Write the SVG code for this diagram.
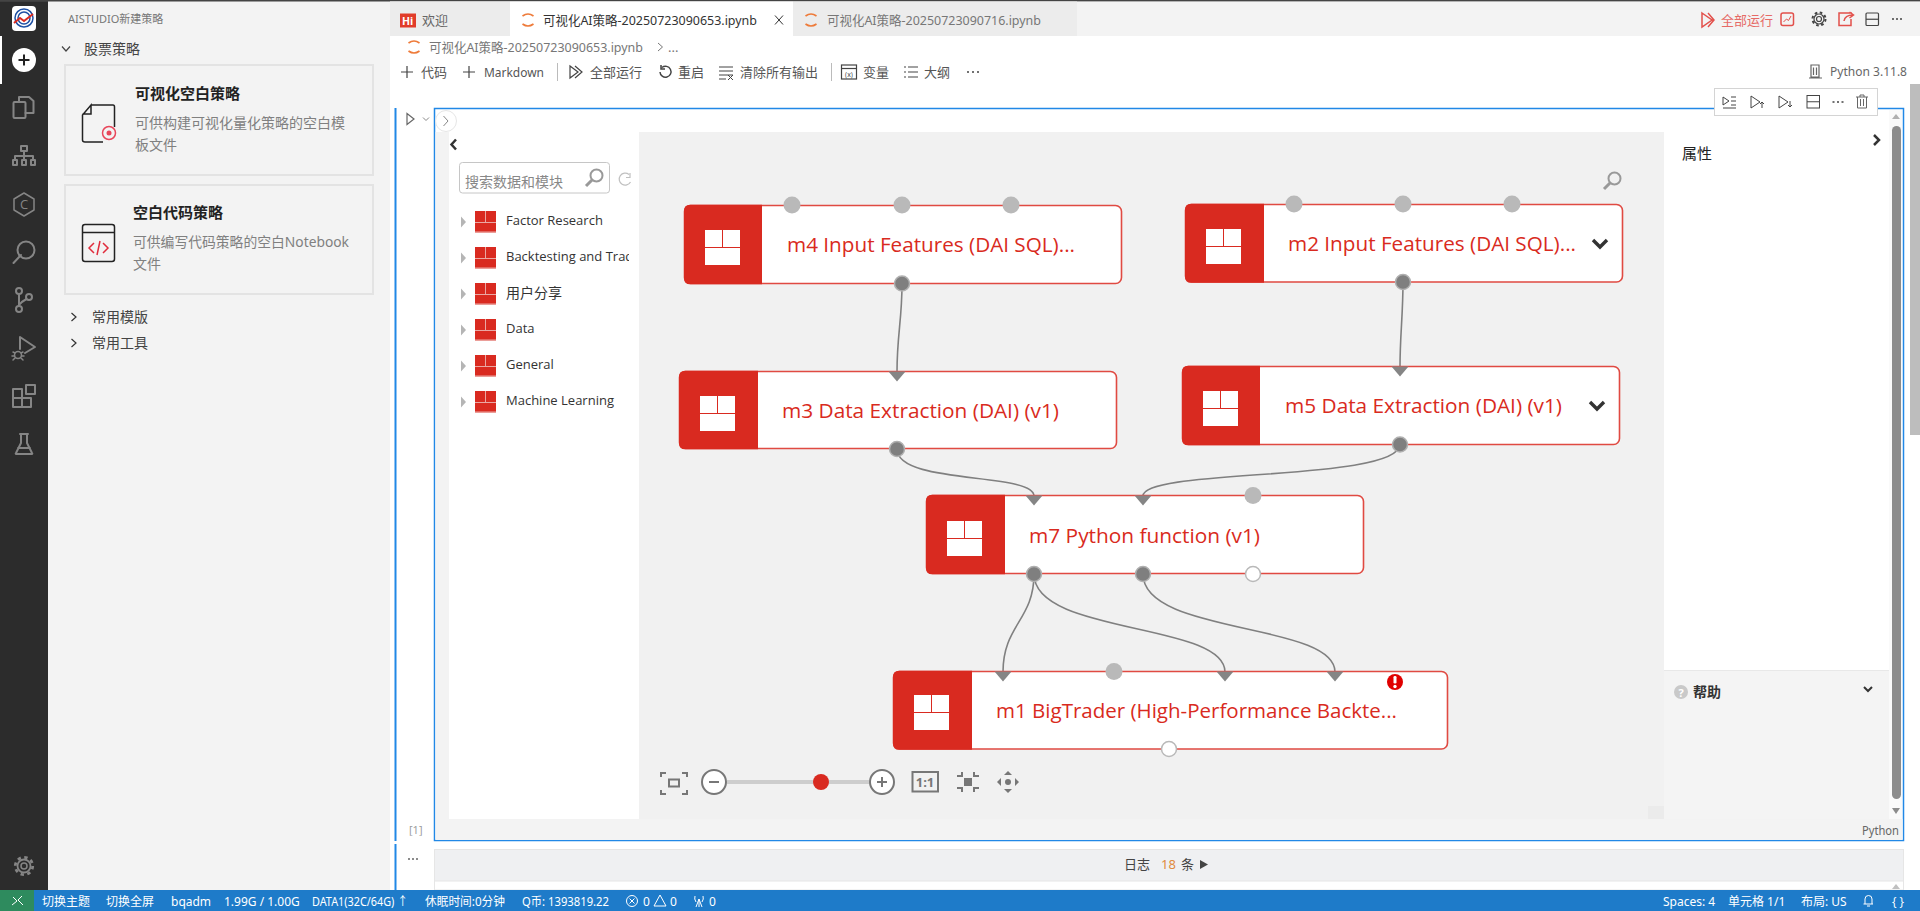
<svg xmlns="http://www.w3.org/2000/svg" xmlns:xlink="http://www.w3.org/1999/xlink" width="1920" height="911" viewBox="0 0 1920 911">
<style>
text{font-family:"Open Sans","Noto Sans","Noto Sans CJK SC",sans-serif;font-size:13px;fill:#555}
.cjk{font-family:"Noto Sans","Noto Sans CJK SC",sans-serif}
.act{fill:none;stroke:#858585;stroke-width:2;stroke-linejoin:round;stroke-linecap:round}
.tb{fill:none;stroke:#444;stroke-width:1.2}
.red{fill:none;stroke:#e2504b;stroke-width:1.5}
.nb{fill:#fff;stroke:#e04a42;stroke-width:1.6}
.nr{fill:#d92a20}
.nt{font-size:20.6px;fill:#d92a20}
.pi{fill:#b9b9b9}
.po{fill:#7f7f7f;stroke:#b0b0b0;stroke-width:1.5}
.pw{fill:#fff;stroke:#b9b9b9;stroke-width:1.5}
.ar{fill:#858585}
.conn{fill:none;stroke:#808080;stroke-width:1.6}
.st{font-size:12px;fill:#fff}
.pal{font-size:13px;fill:#333}
.ctl{fill:none;stroke:#777;stroke-width:2}
.ctf{fill:#777}
.cv{fill:none;stroke:#333;stroke-width:2.5}
</style>
<defs>
<g id="ni"><rect width="35" height="35" fill="#fff"/><path d="M17.5 0V17.5M0 17.5H35" stroke="#d92a20" stroke-width="1"/></g>
<g id="pi"><rect width="21" height="21.5" fill="#d92a20"/><path d="M10.5 0V11M0 11.5H21M0 21H21" stroke="#eaa7a3" stroke-width="1"/></g>
<path id="tri" d="M0 0L5 5.5L0 11Z" fill="#b5b5b5"/>
<g id="jup" fill="none" stroke="#ee7b3a" stroke-width="1.6"><path d="M-5.5 -4Q0 -8 5.5 -4"/><path d="M-5.5 4Q0 8 5.5 4"/></g>
<path id="chev" d="M-7 -3.500L0 3.500L7 -3.500" fill="none" stroke="#333" stroke-width="3.400"/>
<g id="mag" fill="none" stroke="#999" stroke-width="2"><circle cx="2.5" cy="-2.5" r="6"/><path d="M-2 2L-8 8" stroke-width="3"/></g>
<clipPath id="palclip"><rect x="449" y="240" width="180" height="40"/></clipPath>
</defs>

<rect width="1920" height="911" fill="#fff"/>
<g id="activity-bar">
<rect width="48" height="890" fill="#2c2c2c"/>
<rect y="0" width="1920" height="1.5" fill="#444"/>
<rect x="0" y="36" width="2" height="48" fill="#fff"/>
<rect x="12" y="6" width="24" height="25" rx="4" fill="#fff"/>
<circle cx="24" cy="18" r="9" fill="none" stroke="#1d4fa3" stroke-width="1.500"/>
<circle cx="24" cy="18" r="6" fill="none" stroke="#1d4fa3" stroke-width="1.500"/>
<path d="M14 23L20 18L24 21L33 14" fill="none" stroke="#d92a20" stroke-width="2"/>
<circle cx="24" cy="60" r="12" fill="#fff"/>
<path d="M24 54.500V65.500M18.500 60H29.500" stroke="#222" stroke-width="2"/>
<g class="act">
<rect x="13.500" y="102" width="12" height="16" rx="1"/><path d="M19 102V97H29L33.500 101V113H25.500"/>
<rect x="21" y="146" width="6" height="5"/><path d="M24 151V156M15 160V156H33V160M24 156V160"/><rect x="13" y="160" width="4" height="5"/><rect x="22" y="160" width="4" height="5"/><rect x="31" y="160" width="4" height="5"/>
<path d="M24 193L34 199V210L24 216L14 210V199Z" stroke-width="1.5"/>
<path d="M13.500 263L21 255"/><circle cx="26" cy="250" r="8.500"/>
<circle cx="19" cy="291" r="3"/><circle cx="19" cy="309" r="3"/><circle cx="29" cy="297" r="3"/><path d="M19 294V306M26.500 299Q21 302 19 305"/>
<path d="M20 349V337L35 347L25 353"/><circle cx="18" cy="355" r="3.500" stroke-width="1.500"/><path d="M13 352L15 353M23 352L21 353M12 356H14.500M24 356H21.500M13 360L15 358M23 360L21 358" stroke-width="1.500"/>
<rect x="13" y="389" width="9" height="9"/><rect x="13" y="398" width="9" height="9"/><rect x="22" y="398" width="9" height="9"/><rect x="26" y="385" width="9" height="9"/>
<path d="M20 434H28M21 434V443L16 453Q15 454 17 454H31Q33 454 32 453L27 443V434M18 448H30"/>
<circle cx="24" cy="866" r="3" stroke-width="1.500"/><circle cx="24" cy="866" r="6.500" stroke-width="1.800"/><circle cx="24" cy="866" r="8.700" stroke-dasharray="3.400 3.430" stroke-width="2.800" stroke-linecap="butt"/>
</g>
<text x="24" y="209" text-anchor="middle" style="font-size:13px;fill:#858585">C</text>
</g>

<g id="sidebar">
<rect x="48" y="0" width="342" height="890" fill="#f3f3f3"/>
<rect y="0" width="1920" height="1.500" fill="#444"/>
<text x="68" y="23" class="cjk" style="font-size:11px;fill:#777">AISTUDIO新建策略</text>
<path d="M62 46.500L66 51L70 46.500" fill="none" stroke="#444" stroke-width="1.200"/>
<text x="84" y="54" class="cjk" style="font-size:14px;fill:#444">股票策略</text>
<rect x="65" y="65" width="308" height="110" fill="#f3f3f3" stroke="#e3e3e3" stroke-width="2"/>
<rect x="65" y="185" width="308" height="109" fill="#f3f3f3" stroke="#e3e3e3" stroke-width="2"/>
<text x="135" y="99" class="cjk" style="font-size:15px;font-weight:700;fill:#222">可视化空白策略</text>
<text x="135" y="128" class="cjk" style="font-size:14px;fill:#808080">可供构建可视化量化策略的空白模</text>
<text x="135" y="150" class="cjk" style="font-size:14px;fill:#808080">板文件</text>
<text x="133" y="218" class="cjk" style="font-size:15px;font-weight:700;fill:#222">空白代码策略</text>
<text x="133" y="247" class="cjk" style="font-size:14px;fill:#808080" textLength="216" lengthAdjust="spacingAndGlyphs">可供编写代码策略的空白Notebook</text>
<text x="133" y="269" class="cjk" style="font-size:14px;fill:#808080">文件</text>
<path d="M91 105H113Q114.500 105 114.500 107V127M103 142H85Q82.500 142 82.500 140V115L91 105V114H82.500" fill="none" stroke="#222" stroke-width="1.500"/>
<circle cx="109" cy="133" r="6.500" fill="none" stroke="#e8465a" stroke-width="1.500"/><circle cx="109" cy="133" r="2.500" fill="#e8465a"/>
<rect x="82.500" y="224.500" width="32" height="37" rx="2.500" fill="none" stroke="#222" stroke-width="1.500"/>
<path d="M82.500 232.500H114.500" stroke="#222" stroke-width="1.500"/>
<path d="M94 243L89 248L94 253M103 243L108 248L103 253M100 241L97 255" fill="none" stroke="#e02c3c" stroke-width="1.500"/>
<path d="M71.500 313L76 317L71.500 321M71.500 339L76 343L71.500 347" fill="none" stroke="#333" stroke-width="1.200"/>
<text x="92" y="322" class="cjk" style="font-size:14px;fill:#444">常用模版</text>
<text x="92" y="348" class="cjk" style="font-size:14px;fill:#444">常用工具</text>
</g>

<g id="tabs">
<rect x="390" y="1.500" width="1530" height="34.500" fill="#f3f3f3"/>
<rect x="390" y="1.500" width="120" height="34.500" fill="#ececec"/>
<rect x="510" y="1.500" width="283" height="34.500" fill="#fff"/>
<rect x="793" y="1.500" width="284" height="34.500" fill="#ececec"/>
<rect x="400" y="13.500" width="16" height="14" fill="#e13c2a"/>
<text x="402" y="24.500" style="font-size:10.500px;font-weight:700;fill:#fff">Hi</text>
<text x="422" y="25" class="cjk" style="fill:#666">欢迎</text>
<use xlink:href="#jup" href="#jup" x="528" y="20"/>
<text x="543" y="25" class="cjk" style="fill:#333" textLength="214" lengthAdjust="spacingAndGlyphs">可视化AI策略-20250723090653.ipynb</text>
<path d="M775 15.500L783 24.500M783 15.500L775 24.500" stroke="#333" stroke-width="1"/>
<use xlink:href="#jup" href="#jup" x="811" y="20"/>
<text x="827" y="25" class="cjk" style="fill:#777" textLength="214" lengthAdjust="spacingAndGlyphs">可视化AI策略-20250723090716.ipynb</text>
<path d="M1702 13L1712 20L1702 27ZM1708 13L1714 20L1708 27" class="red"/>
<text x="1721" y="25" class="cjk" style="fill:#e66a66">全部运行</text>
<rect x="1781" y="13" width="12.500" height="12.500" rx="2" class="red"/><path d="M1783.500 22L1786.500 19L1788.500 20.500L1791 16" class="red" style="stroke-width:1"/>
<circle cx="1819" cy="19" r="2.500" class="tb"/><circle cx="1819" cy="19" r="5" class="tb"/><circle cx="1819" cy="19" r="6.500" fill="none" stroke="#444" stroke-width="2" stroke-dasharray="2.600 2.500"/>
<path d="M1852 13H1839V25.500H1851V19M1844 21Q1845 15 1853 15M1849.500 12L1853.500 15L1849.500 18" class="red"/>
<rect x="1866" y="13" width="12.500" height="12.500" rx="1" class="tb"/><path d="M1866 19.250H1878.500" class="tb"/>
<path d="M1892 19h2M1896 19h2M1900 19h2" stroke="#444" stroke-width="1.500"/>
</g>

<g id="breadcrumb-toolbar">
<use xlink:href="#jup" href="#jup" x="414" y="47"/>
<text x="429" y="52" class="cjk" style="fill:#777" textLength="214" lengthAdjust="spacingAndGlyphs">可视化AI策略-20250723090653.ipynb</text>
<path d="M658 43L662.500 47L658 51" fill="none" stroke="#777"/>
<text x="668" y="52" class="cjk" style="fill:#777">...</text>
<path d="M401 72H413M407 66V78M463 72H475M469 66V78" stroke="#444" stroke-width="1.200"/>
<text x="421" y="77" class="cjk">代码</text>
<text x="484" y="77" class="cjk" textLength="60" lengthAdjust="spacingAndGlyphs">Markdown</text>
<path d="M557.500 63V81M831.500 63V81" stroke="#bbb"/>
<path d="M570 66V78L578 72ZM575 66L582 72L575 78" class="tb"/>
<text x="590" y="77" class="cjk">全部运行</text>
<path d="M662 67.500A5.500 5.500 0 1 1 660 72M661 65V69H665" class="tb" style="stroke-width:1.500"/>
<text x="678" y="77" class="cjk">重启</text>
<path d="M719 67H733M719 71H733M719 75H733M719 79H726M728 75L733 80M733 75L728 80" class="tb" style="stroke-width:1"/>
<text x="740" y="77" class="cjk">清除所有输出</text>
<rect x="841.500" y="65" width="15" height="14" class="tb"/><path d="M841.500 68.500H856.500" class="tb"/><text x="849" y="77" text-anchor="middle" style="font-size:7px;fill:#444">(x)</text>
<text x="863" y="77" class="cjk">变量</text>
<path d="M904 67h2M908 67h10M904 72h2M908 72h10M904 77h2M908 77h10" class="tb"/>
<text x="924" y="77" class="cjk">大纲</text>
<path d="M967 72h2M972 72h2M977 72h2" stroke="#444" stroke-width="1.500"/>
<path d="M1811 65H1819V77H1811ZM1813.500 67.500V75M1816.500 67.500V75M1809 78H1822" fill="none" stroke="#666" stroke-width="1.200"/>
<text x="1830" y="76" class="cjk" style="fill:#666" textLength="77" lengthAdjust="spacingAndGlyphs">Python 3.11.8</text>
</g>

<g id="cell">
<rect x="394.500" y="108" width="2" height="733" fill="#2188e6"/>
<rect x="394.500" y="844" width="2" height="46" fill="#2188e6"/>
<path d="M407 113.500L414 119L407 124.500Z" fill="none" stroke="#666" stroke-width="1.200"/>
<path d="M423 117.500L426 120.500L429 117.500" fill="none" stroke="#888"/>
<rect x="434.500" y="108.500" width="1469" height="732" fill="#fff" stroke="#2188e6" stroke-width="1.500"/>
<rect x="435.500" y="819" width="1467" height="21" fill="#f3f3f3"/>
<rect x="435.500" y="132" width="13.500" height="687" fill="#f3f3f3"/>
<rect x="1664" y="670" width="225" height="149" fill="#f4f4f4"/>
<path d="M1664 670.500H1889" stroke="#e8e8e8"/>
<rect x="639" y="132" width="1025" height="687" fill="#f1f1f1"/>
<rect x="1648" y="806" width="16" height="13" fill="#ebebeb"/>
<rect x="1889" y="110" width="13" height="709" fill="#fafafa"/>
<path d="M1892 119L1896 114L1900 119Z" fill="#b0b0b0"/>
<rect x="1892" y="126" width="9" height="673" rx="4.500" fill="#8c8c8c"/>
<path d="M1892 808H1900L1896 814Z" fill="#8c8c8c"/>
<circle cx="446" cy="121" r="10.500" fill="#fff" stroke="#e6e6e6"/>
<path d="M443.500 116L448 121L443.500 126" fill="none" stroke="#888"/>
<use xlink:href="#mag" href="#mag" x="1612" y="181"/>
<text x="1682" y="159" class="cjk" style="font-size:15px;fill:#222">属性</text>
<path d="M1874 135L1879 140L1874 145" class="cv"/>
<circle cx="1681" cy="692" r="7" fill="#c9c9c9"/><text x="1681" y="696.500" text-anchor="middle" style="font-size:11px;font-weight:700;fill:#fff">?</text>
<text x="1693" y="697" class="cjk" style="font-size:14px;font-weight:700;fill:#333">帮助</text>
<path d="M1864 687L1868 691L1872 687" fill="none" stroke="#333" stroke-width="2"/>
<text x="1862" y="835" class="cjk" style="font-size:12px;fill:#666" textLength="37" lengthAdjust="spacingAndGlyphs">Python</text>
<text x="409" y="834" style="font-size:11px;fill:#999">[1]</text>
<rect x="1714.500" y="88.500" width="163" height="27" fill="#fff" stroke="#d4d4d4" stroke-width="1"/>
<g class="tb" style="stroke-width:1">
<path d="M1723 97L1729 101L1723 105ZM1731 97H1736M1731 101H1736M1731 105H1736M1723 108H1736"/>
<path d="M1751 96V108L1760 102ZM1762 108V102M1760 104L1762 102L1764 104"/>
<path d="M1779 96V108L1788 102ZM1790 101V107M1788 105L1790 107L1792 105"/>
<rect x="1807" y="95.500" width="12.500" height="12.500"/><path d="M1807 101.750H1819.500"/>
<path d="M1856 97H1868M1860 97V95H1864V97M1857.500 97V108H1866.500V97M1860.500 99V106M1863.500 99V106" stroke="#666"/>
</g>
<path d="M1832.500 102h2M1837 102h2M1841.500 102h2" stroke="#444" stroke-width="1.500"/>
</g>

<g id="palette">
<path d="M456 139.500L451.500 144.500L456 149.500" class="cv"/>
<rect x="459.500" y="162.500" width="150" height="30.500" rx="3" fill="#fff" stroke="#c6c6c6" stroke-width="1"/>
<text x="465" y="187" class="cjk" style="font-size:14px;fill:#888">搜索数据和模块</text>
<use xlink:href="#mag" href="#mag" x="594" y="178"/>
<path d="M629 174.500A6 6 0 1 0 630.500 182M630 173V177.500H626" fill="none" stroke="#c0c0c0" stroke-width="1.200"/>
<use xlink:href="#tri" href="#tri" x="461" y="216.500"/><use xlink:href="#pi" href="#pi" x="475" y="211"/><text x="506" y="225" class="pal">Factor Research</text>
<use xlink:href="#tri" href="#tri" x="461" y="252.500"/><use xlink:href="#pi" href="#pi" x="475" y="247"/><text x="506" y="261" class="pal" clip-path="url(#palclip)">Backtesting and Trading</text>
<use xlink:href="#tri" href="#tri" x="461" y="288.500"/><use xlink:href="#pi" href="#pi" x="475" y="283"/><text x="506" y="298" class="pal cjk" style="font-size:14px">用户分享</text>
<use xlink:href="#tri" href="#tri" x="461" y="324.500"/><use xlink:href="#pi" href="#pi" x="475" y="319"/><text x="506" y="333" class="pal">Data</text>
<use xlink:href="#tri" href="#tri" x="461" y="360.500"/><use xlink:href="#pi" href="#pi" x="475" y="355"/><text x="506" y="369" class="pal">General</text>
<use xlink:href="#tri" href="#tri" x="461" y="396.500"/><use xlink:href="#pi" href="#pi" x="475" y="391"/><text x="506" y="405" class="pal">Machine Learning</text>
</g>

<g id="connectors">
<path class="conn" d="M902 284C902 320 897 335 897 372"/>
<path class="conn" d="M1403 282C1403 315 1400 335 1400 367"/>
<path class="conn" d="M897 449C897 485 1034 472 1034 496"/>
<path class="conn" d="M1400 444C1400 482 1143 468 1143 496"/>
<path class="conn" d="M1034 574C1034 620 1003 625 1003 672"/>
<path class="conn" d="M1034 574C1034 635 1225 622 1225 672"/>
<path class="conn" d="M1143 574C1143 635 1335 622 1335 672"/>
</g>

<g id="node-m4">
<rect class="nb" x="684.500" y="205.500" width="437" height="78" rx="6"/>
<path class="nr" d="M690 204.700H762V284.300H690Q684 284.300 684 278V211Q684 204.700 690 204.700Z"/>
<use xlink:href="#ni" href="#ni" x="705" y="230"/>
<text class="nt" x="787" y="252" textLength="288" lengthAdjust="spacingAndGlyphs">m4 Input Features (DAI SQL)...</text>
<circle class="pi" cx="792" cy="205" r="8.500"/><circle class="pi" cx="902" cy="205" r="8.500"/><circle class="pi" cx="1011" cy="205" r="8.500"/>
<circle class="po" cx="902" cy="283.500" r="7.500"/>
</g>
<g id="node-m3">
<rect class="nb" x="679.500" y="371.500" width="437" height="77" rx="6"/>
<path class="nr" d="M685 370.700H758V449.300H685Q679 449.300 679 443V377Q679 370.700 685 370.700Z"/>
<use xlink:href="#ni" href="#ni" x="700" y="396"/>
<text class="nt" x="782" y="418" textLength="277" lengthAdjust="spacingAndGlyphs">m3 Data Extraction (DAI) (v1)</text>
<path class="ar" d="M888.500 371.500H905.500L897 381.500Z"/>
<circle class="po" cx="897" cy="449" r="7.500"/>
</g>
<g id="node-m2">
<rect class="nb" x="1185.500" y="204.500" width="437" height="77.500" rx="6"/>
<path class="nr" d="M1191 203.700H1264V282.700H1191Q1185 282.700 1185 276.700V210Q1185 203.700 1191 203.700Z"/>
<use xlink:href="#ni" href="#ni" x="1206" y="229"/>
<text class="nt" x="1288" y="251" textLength="288" lengthAdjust="spacingAndGlyphs">m2 Input Features (DAI SQL)...</text>
<use xlink:href="#chev" href="#chev" x="1600" y="243.500"/>
<circle class="pi" cx="1294" cy="204" r="8.500"/><circle class="pi" cx="1403" cy="204" r="8.500"/><circle class="pi" cx="1512" cy="204" r="8.500"/>
<circle class="po" cx="1403" cy="282" r="7.500"/>
</g>
<g id="node-m5">
<rect class="nb" x="1182.500" y="366.500" width="437" height="78" rx="6"/>
<path class="nr" d="M1188 365.700H1260V445.300H1188Q1182 445.300 1182 439.300V372Q1182 365.700 1188 365.700Z"/>
<use xlink:href="#ni" href="#ni" x="1203" y="391"/>
<text class="nt" x="1285" y="413" textLength="277" lengthAdjust="spacingAndGlyphs">m5 Data Extraction (DAI) (v1)</text>
<use xlink:href="#chev" href="#chev" x="1597" y="405.500"/>
<path class="ar" d="M1391.500 366.500H1408.500L1400 376.500Z"/>
<circle class="po" cx="1400" cy="444.500" r="7.500"/>
</g>
<g id="node-m7">
<rect class="nb" x="926.500" y="495.500" width="437" height="78" rx="6"/>
<path class="nr" d="M932 494.700H1005V574.300H932Q926 574.300 926 568V501Q926 494.700 932 494.700Z"/>
<use xlink:href="#ni" href="#ni" x="947" y="521"/>
<text class="nt" x="1029" y="543" textLength="231" lengthAdjust="spacingAndGlyphs">m7 Python function (v1)</text>
<path class="ar" d="M1025.500 495.500H1042.500L1034 505.500Z"/><path class="ar" d="M1134.500 495.500H1151.500L1143 505.500Z"/>
<circle class="pi" cx="1253" cy="495.500" r="8.500"/>
<circle class="po" cx="1034" cy="574" r="7.500"/><circle class="po" cx="1143" cy="574" r="7.500"/><circle class="pw" cx="1253" cy="574" r="7.500"/>
</g>
<g id="node-m1">
<rect class="nb" x="893.500" y="671.500" width="554" height="77.500" rx="6"/>
<path class="nr" d="M899 670.700H972V749.700H899Q893 749.700 893 743.700V677Q893 670.700 899 670.700Z"/>
<use xlink:href="#ni" href="#ni" x="914" y="695"/>
<text class="nt" x="996" y="718" textLength="401" lengthAdjust="spacingAndGlyphs">m1 BigTrader (High-Performance Backte...</text>
<path class="ar" d="M994.500 671.500H1011.500L1003 681.500Z"/><path class="ar" d="M1216.500 671.500H1233.500L1225 681.500Z"/><path class="ar" d="M1326.500 671.500H1343.500L1335 681.500Z"/>
<circle class="pi" cx="1114" cy="671.500" r="8.500"/>
<circle class="pw" cx="1169" cy="749" r="7.500"/>
<circle cx="1395" cy="682" r="8" fill="#e00000"/><rect x="1393.500" y="676" width="3" height="7.500" rx="1.300" fill="#fff"/><circle cx="1395" cy="686.500" r="1.700" fill="#fff"/>
</g>

<g id="canvas-controls">
<path class="ctl" d="M661 777V773H666M682 773H687V777M687 790V794H682M666 794H661V790" stroke-width="1.500"/>
<rect x="669" y="779.500" width="10" height="7" class="ctl"/>
<rect x="727" y="780" width="143" height="4" fill="#cdcdcd"/>
<circle cx="714" cy="782" r="12" fill="#fff" stroke="#777" stroke-width="2"/><path d="M709 782H719" stroke="#777" stroke-width="2"/>
<circle cx="882" cy="782" r="12" fill="#fff" stroke="#777" stroke-width="2"/><path d="M877 782H887M882 777V787" stroke="#777" stroke-width="2"/>
<circle cx="821" cy="782" r="8" fill="#d92a20"/>
<rect x="912.500" y="772" width="25.500" height="19.500" class="ctl"/>
<text x="925" y="787" text-anchor="middle" style="font-size:13px;font-weight:700;fill:#777">1:1</text>
<rect x="964" y="778" width="8" height="8" class="ctf"/>
<path class="ctl" d="M962 772V776H957M974 772V776H979M962 792V788H957M974 792V788H979" stroke-width="1.500"/>
<circle cx="1008" cy="782" r="3" class="ctf"/>
<path class="ctf" d="M1008 771L1012 775H1004ZM1008 793L1012 789H1004ZM997 782L1001 778V786ZM1019 782L1015 778V786Z"/>
</g>

<g id="log">
<path d="M408 859h2M412 859h2M416 859h2" stroke="#666" stroke-width="1.500"/>
<rect x="434.500" y="849.500" width="1469" height="40.500" fill="#fff" stroke="#e6e6e6"/>
<rect x="435" y="850" width="1468" height="31" fill="#eff0f2"/>
<path d="M435 881H1903" stroke="#e6e6e6"/>
<text x="1124" y="869" class="cjk" style="font-size:13px;fill:#444">日志</text>
<text x="1161" y="869" class="cjk" style="font-size:13px;fill:#e08a3e">18</text>
<text x="1181" y="869" class="cjk" style="font-size:13px;fill:#444">条</text>
<path d="M1200 860L1208 864.500L1200 869Z" fill="#444"/>
<path d="M1892 889L1896 884L1900 889Z" fill="#c0c0c0"/>
</g>

<rect id="outer-scroll" x="1910" y="84" width="10" height="351" fill="#bdbdbd"/>

<g id="statusbar">
<rect y="890" width="1920" height="21" fill="#1e7bc9"/>
<rect y="890" width="34" height="21" fill="#2e8b5e"/>
<path d="M12 905L17 901L13 897M22 896L18 900L23 905" fill="none" stroke="#fff"/>
<text class="st cjk" x="42" y="906">切换主题</text>
<text class="st cjk" x="106" y="906">切换全屏</text>
<text class="st cjk" x="171" y="906">bqadm</text>
<text class="st cjk" x="224" y="906">1.99G / 1.00G</text>
<text class="st cjk" x="312" y="906" textLength="96" lengthAdjust="spacingAndGlyphs">DATA1(32C/64G) ↑</text>
<text class="st cjk" x="425" y="906" textLength="80" lengthAdjust="spacingAndGlyphs">休眠时间:0分钟</text>
<text class="st cjk" x="522" y="906" textLength="87" lengthAdjust="spacingAndGlyphs">Q币: 1393819.22</text>
<circle cx="632" cy="901" r="5.500" fill="none" stroke="#fff"/><path d="M629.500 898.500L634.500 903.500M634.500 898.500L629.500 903.500" stroke="#fff"/>
<text class="st cjk" x="643" y="906">0</text>
<path d="M660 895L666 906H654Z" fill="none" stroke="#fff"/>
<text class="st cjk" x="670" y="906">0</text>
<path d="M699 899V907M696 907L699 899L702 907M695 896Q694 899 696 902M703 896Q704 899 702 902" fill="none" stroke="#fff"/>
<text class="st cjk" x="709" y="906">0</text>
<text class="st cjk" x="1663" y="906">Spaces: 4</text>
<text class="st cjk" x="1728" y="906">单元格 1/1</text>
<text class="st cjk" x="1801" y="906">布局: US</text>
<path d="M1863.500 904H1873M1865 904V899A3.500 3.500 0 0 1 1872 899V904M1867 906H1870" fill="none" stroke="#fff"/>
<text class="st" x="1892" y="906">{ }</text>
</g>
</svg>
